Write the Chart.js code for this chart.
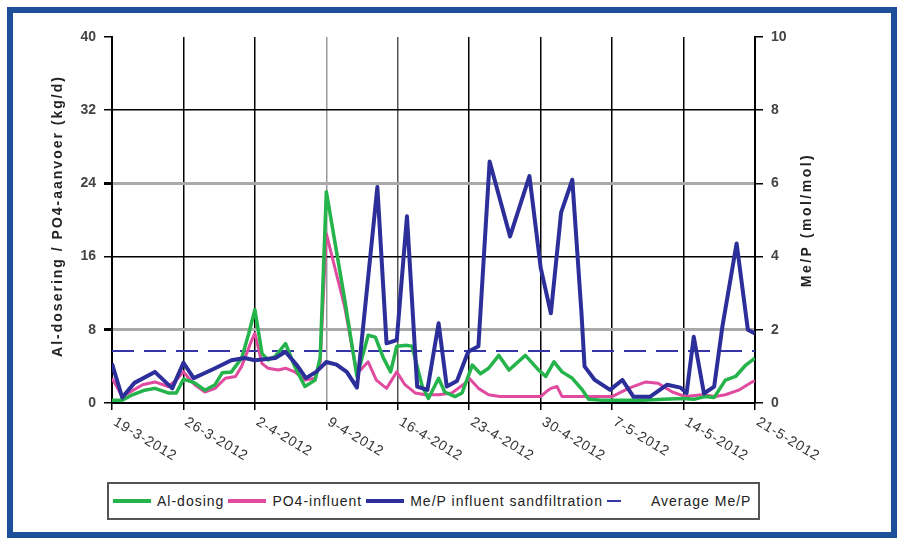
<!DOCTYPE html>
<html>
<head>
<meta charset="utf-8">
<script src="https://cdn.jsdelivr.net/npm/chart.js@4.4.1/dist/chart.umd.min.js"></script>
<style>
html, body { margin: 0; padding: 0; background: #fff; }
#frame { position: absolute; left: 7px; top: 7px; width: 890px; height: 531px; box-sizing: border-box; border: 6px solid #1d4f9b; }
#wrap { position: absolute; left: 0; top: 0; width: 904px; height: 545px; }
#legend { position: absolute; left: 107px; top: 482px; width: 653px; height: 38px; box-sizing: border-box;
  border: 2px solid #555; display: flex; align-items: center; padding-left: 4px;
  font: 14px "Liberation Sans", Arial, sans-serif; letter-spacing: 1px; color: #222; background: #fff; }
.item { display: flex; align-items: center; margin-right: 4px; }
.swatch { width: 38px; height: 4px; margin-right: 6px; }
</style>
</head>
<body>
<div id="frame"></div>
<div id="wrap"><canvas id="chart" width="904" height="545"></canvas></div>
<div id="legend"></div>
<script>
// x axis: days since 19-3-2012, weekly labels
const dateLabels = ["19-3-2012", "26-3-2012", "2-4-2012", "9-4-2012", "16-4-2012",
                    "23-4-2012", "30-4-2012", "7-5-2012", "14-5-2012", "21-5-2012"];
const leftTicks = [0, 8, 16, 24, 32, 40];
const rightTicks = [0, 2, 4, 6, 8, 10];

const leftTitle = "Al-dosering / PO4-aanvoer (kg/d)";
const rightTitle = "Me/P (mol/mol)";

// Al-dosing (kg/d)
const alDays = [0, 1, 2, 3.2, 4.2, 5.5, 6.3, 7, 8.1, 9.1, 10.1, 10.8, 11.7, 12.7, 13.4, 14, 14.7, 15.3, 16, 17,
  17.9, 18.9, 19.9, 20.4, 21, 22.8, 24, 25.1, 25.8, 26.6, 27.3, 27.9, 28.9, 29.4, 30.4, 31, 32, 32.6, 33.6, 34.3,
  35.3, 36.1, 36.9, 37.9, 38.9, 40.5, 41.8, 42.5, 43.3, 44.1, 45.1, 46.1, 46.7, 48, 50, 52, 54, 56, 57, 58.1,
  59, 60.1, 61.1, 62.1, 63];
const alValues = [0.3, 0.3, 0.9, 1.4, 1.6, 1.1, 1.1, 2.6, 2.2, 1.4, 2.0, 3.3, 3.4, 4.9, 7.6, 10.2, 5.4, 4.7, 5.1, 6.5,
  4.0, 1.8, 2.5, 5.0, 23.1, 11.3, 2.9, 7.4, 7.2, 4.9, 3.4, 6.2, 6.3, 6.2, 1.8, 0.5, 2.7, 1.2, 0.7, 1.1,
  4.15, 3.2, 3.8, 5.2, 3.6, 5.2, 3.6, 2.9, 4.5, 3.4, 2.7, 1.4, 0.4, 0.3, 0.3, 0.3, 0.4, 0.5, 0.4, 0.7,
  0.6, 2.5, 2.9, 4.15, 4.9];

// PO4-influent (kg/d)
const po4Days = [0, 1, 3, 4.2, 5.5, 6.3, 7, 8.1, 9.1, 10.1, 11.1, 12.1, 12.7, 13.7, 14, 14.7, 15.3, 16.3, 17, 17.9,
  18.9, 19.9, 20.4, 21, 22.8, 24, 25.1, 25.9, 26.9, 27.9, 28.7, 29.7, 30.7, 32, 33.3, 34.6, 35, 35.9, 36.9, 38,
  40, 42, 42.5, 43, 43.6, 44.1, 46, 48, 49, 50.6, 52.3, 53.5, 54.9, 56.2, 57.8, 59.1, 60.1, 61.4, 62.7, 63];
const po4Values = [2.7, 0.7, 2.0, 2.3, 1.8, 2.5, 3.4, 2.0, 1.2, 1.6, 2.7, 2.9, 4.0, 6.9, 7.6, 4.3, 3.8, 3.6, 3.8, 3.4,
  2.5, 2.7, 4.5, 18.5, 10.5, 3.2, 4.5, 2.5, 1.6, 3.4, 2.0, 1.1, 0.9, 0.9, 1.1, 2.15, 2.7, 1.6, 0.9, 0.7,
  0.7, 0.7, 1.2, 1.6, 1.8, 0.7, 0.7, 0.7, 0.7, 1.6, 2.3, 2.15, 1.2, 0.7, 0.9, 0.7, 0.9, 1.4, 2.3, 2.4];

// Me/P influent sandfiltration (mol/mol)
const mepDays = [0, 1, 2.2, 4.2, 5.9, 7, 8, 9.1, 10.1, 11.7, 13, 14, 16, 17, 18.2, 19, 20, 21, 22, 23, 24, 26,
  26.9, 27.9, 28.9, 29.9, 30.9, 32, 32.8, 33.8, 34.9, 35.9, 37, 39, 40.9, 42, 43, 44, 45.1, 46, 46.3, 47.3,
  48.8, 50, 51.1, 52.7, 54.4, 55.7, 56.3, 57, 58, 59, 59.8, 61.2, 62.3, 63];
const mepValues = [1.08, 0.15, 0.55, 0.85, 0.4, 1.1, 0.68, 0.82, 0.95, 1.17, 1.23, 1.17, 1.23, 1.4, 1.0, 0.68, 0.85,
  1.12, 1.05, 0.85, 0.42, 5.9, 1.63, 1.72, 5.1, 0.45, 0.36, 2.18, 0.45, 0.6, 1.4, 1.55, 6.6, 4.55, 6.2, 3.7,
  2.45, 5.2, 6.1, 2.45, 1.0, 0.63, 0.36, 0.63, 0.17, 0.17, 0.5, 0.42, 0.27, 1.81, 0.26, 0.45, 2.08, 4.36, 2.0, 1.9];

const avgMep = 1.42;

const series = [
  { name: "Al-dosing", color: "#25b34c", width: 3.5 },
  { name: "PO4-influent", color: "#e04a9f", width: 3 },
  { name: "Me/P influent sandfiltration", color: "#2c2f99", width: 4 },
  { name: "Average Me/P", color: "#3636a8", width: 2, dash: [22, 10] }
];

const toPoints = (xs, ys) => xs.map((x, i) => ({ x: x, y: ys[i] }));

const FONT = '"Liberation Sans", Arial, sans-serif';

// legend box (html)
const legendEl = document.getElementById("legend");
series.forEach(s => {
  const item = document.createElement("div");
  item.className = "item";
  const sw = document.createElement("div");
  sw.className = "swatch";
  if (s.dash) {
    sw.style.height = "2px";
    sw.style.background = `linear-gradient(to right, ${s.color} 14px, transparent 14px)`;
  } else {
    sw.style.background = s.color;
  }
  const label = document.createElement("span");
  label.textContent = s.name;
  item.appendChild(sw);
  item.appendChild(label);
  legendEl.appendChild(item);
});

// rotated date labels + axis titles
const customText = {
  id: "customText",
  afterDraw(chart) {
    const ctx = chart.ctx;
    const xs = chart.scales.x;
    ctx.save();
    ctx.fillStyle = "#333";
    ctx.font = "14px " + FONT;
    ctx.letterSpacing = "0.8px";
    ctx.textAlign = "left";
    ctx.textBaseline = "top";
    dateLabels.forEach((lab, i) => {
      const x = xs.getPixelForValue(i * 7);
      ctx.save();
      ctx.translate(x + 6, xs.top + 12);
      ctx.rotate(31 * Math.PI / 180);
      ctx.fillText(lab, 0, 0);
      ctx.restore();
    });

    ctx.font = "bold 14px " + FONT;
    ctx.fillStyle = "#222";
    ctx.letterSpacing = "2px";
    ctx.textAlign = "center";
    ctx.textBaseline = "middle";
    ctx.save();
    ctx.translate(58, 216);
    ctx.rotate(-Math.PI / 2);
    ctx.fillText(leftTitle, 0, 0);
    ctx.restore();
    ctx.letterSpacing = "2.5px";
    ctx.save();
    ctx.translate(807, 220);
    ctx.rotate(-Math.PI / 2);
    ctx.fillText(rightTitle, 0, 0);
    ctx.restore();
    ctx.restore();
  }
};

function hGridColor(v) {
  if (v === 40) return "rgba(0,0,0,0)";
  if (v === 24 || v === 8) return "#a9a9a9";
  return "#000";
}
function vGridColor(v) {
  if (v === 21) return "#9a9a9a";
  if (v === 28) return "#555";
  return "#000";
}

new Chart(document.getElementById("chart"), {
  type: "line",
  data: {
    datasets: [
      {
        label: series[2].name, data: toPoints(mepDays, mepValues), yAxisID: "y1",
        borderColor: series[2].color, borderWidth: series[2].width, order: 0
      },
      {
        label: series[0].name, data: toPoints(alDays, alValues), yAxisID: "y",
        borderColor: series[0].color, borderWidth: series[0].width, order: 1
      },
      {
        label: series[1].name, data: toPoints(po4Days, po4Values), yAxisID: "y",
        borderColor: series[1].color, borderWidth: series[1].width, order: 2
      },
      {
        label: series[3].name, data: [{ x: 0, y: avgMep }, { x: 63, y: avgMep }], yAxisID: "y1",
        borderColor: series[3].color, borderWidth: series[3].width, borderDash: series[3].dash, order: 3
      }
    ]
  },
  options: {
    responsive: false,
    animation: false,
    devicePixelRatio: 1,
    layout: { padding: { top: 37, left: 0, right: 0, bottom: 0 } },
    elements: {
      point: { radius: 0 },
      line: { tension: 0, borderJoinStyle: "round", borderCapStyle: "butt", fill: false }
    },
    plugins: { legend: { display: false }, tooltip: { enabled: false } },
    scales: {
      x: {
        type: "linear", min: 0, max: 63,
        afterBuildTicks: s => { s.ticks = dateLabels.map((_, i) => ({ value: i * 7 })); },
        afterFit: s => { s.height = 142; },
        ticks: { display: false },
        border: { display: true, color: "#000", width: 2 },
        grid: {
          color: c => vGridColor(c.tick.value),
          lineWidth: 1.5,
          tickColor: "#000",
          tickLength: 7
        }
      },
      y: {
        position: "left", min: 0, max: 40,
        afterBuildTicks: s => { s.ticks = leftTicks.map(v => ({ value: v })); },
        afterFit: s => { s.width = 112; },
        ticks: { color: "#444", padding: 8, font: { family: FONT, size: 14, weight: "bold" } },
        border: { display: true, color: "#000", width: 2 },
        grid: {
          color: c => hGridColor(c.tick.value),
          lineWidth: c => (c.tick.value === 24 || c.tick.value === 8) ? 3 : 1.5,
          tickColor: "#000",
          tickLength: 8
        }
      },
      y1: {
        position: "right", min: 0, max: 10,
        afterBuildTicks: s => { s.ticks = rightTicks.map(v => ({ value: v })); },
        afterFit: s => { s.width = 149; },
        ticks: { color: "#444", padding: 8, font: { family: FONT, size: 14, weight: "bold" } },
        border: { display: true, color: "#000", width: 2 },
        grid: { drawOnChartArea: false, color: "#000", lineWidth: 1.5, tickColor: "#000", tickLength: 8 }
      }
    }
  },
  plugins: [customText]
});
</script>
</body>
</html>
